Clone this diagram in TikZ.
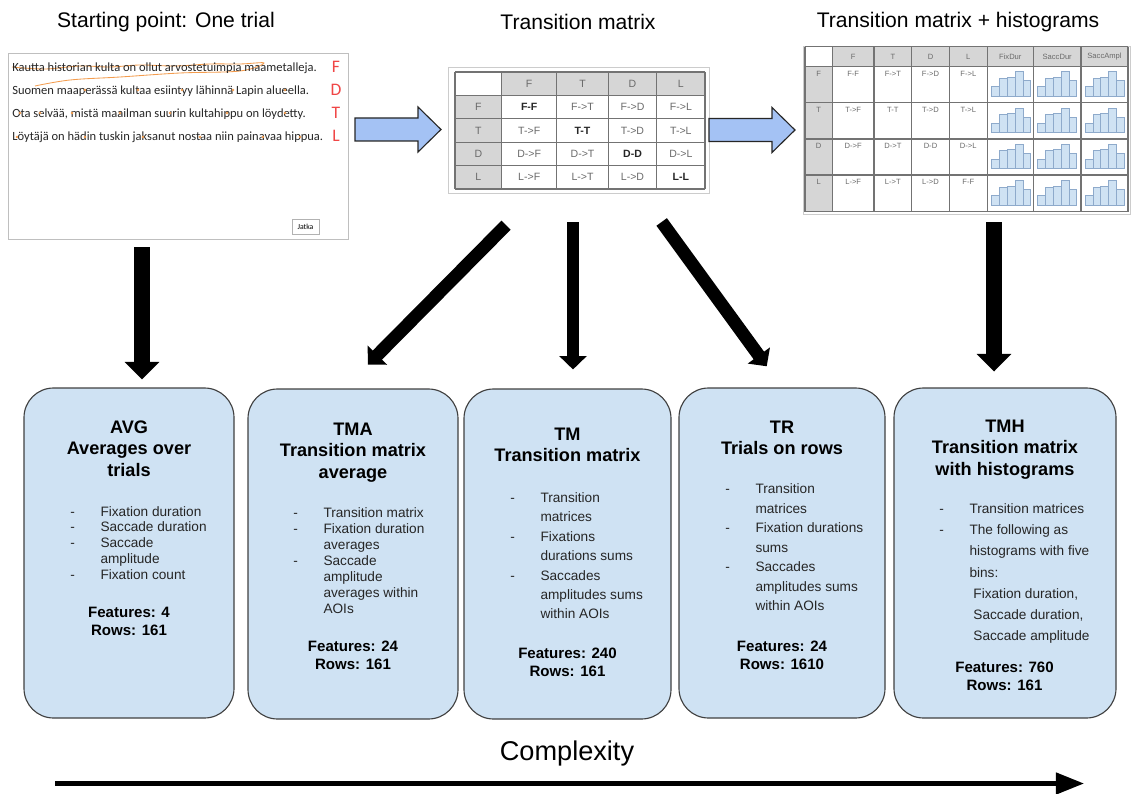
\documentclass[tikz,border=0pt]{standalone}
\usepackage{fontspec}
\setmainfont{Liberation Sans}
\newfontfamily\shotfont{Carlito}
\usetikzlibrary{arrows.meta,fit}

\definecolor{boxblue}{HTML}{CFE2F3}
\definecolor{arrblue}{HTML}{A4C2F4}
\definecolor{hdrgray}{HTML}{D6D6D6}
\definecolor{cellgray}{HTML}{6A6A6A}
\definecolor{barline}{HTML}{8EAACB}
\definecolor{scanorange}{HTML}{F39C4E}
\definecolor{aoired}{HTML}{F04646}

\newcommand{\ctab}[1]{\begin{tabular}[t]{@{}c@{}}#1\end{tabular}}
\newcommand{\itab}[1]{\begin{tabular}[t]{@{}p{21.5pt}@{}l@{}}#1\end{tabular}}
\newcommand{\ltab}[1]{\begin{tabular}[t]{@{}l@{}}#1\end{tabular}}
\newcommand{\histo}[2]{%
  \foreach \h [count=\k] in {9.3,17.7,18.7,24.3,15.3}
    {\draw[histbar] ({#1+(\k-1)*7.9},#2) rectangle ++(7.9,-\h);}}

\tikzset{
  title/.style={font=\fontsize{15}{18}\selectfont, inner sep=0pt},
  featbox/.style={draw=black!75, fill=boxblue, rounded corners=21pt, inner sep=0pt, line width=0.8pt},
  head/.style={font=\bfseries\fontsize{12.9}{15.2}\selectfont, anchor=base, inner sep=0pt},
  items/.style={font=\fontsize{9.7}{#1}\selectfont, anchor=base west, inner sep=0pt, text=black!85},
  feat/.style={font=\bfseries\fontsize{10.7}{12.8}\selectfont, anchor=base, inner sep=0pt},
  frame/.style={draw=black!20, fill=white, inner sep=0pt, line width=0.6pt},
  grid/.style={draw=black!55, line width=0.8pt},
  cell/.style={font=\fontsize{7.5}{9}\selectfont, text=cellgray, inner sep=0pt},
  small/.style={font=\fontsize{5.4}{6.5}\selectfont, text=cellgray, inner sep=0pt},
  histbar/.style={fill=boxblue, draw=barline, line width=0.5pt},
  fatarrow/.style={line width=12pt, -{Triangle[width=24pt,length=12.5pt]}},
  midarrow/.style={line width=9.2pt, -{Triangle[width=19pt,length=9.5pt]}},
  blockarr/.pic={\draw[fill=arrblue, draw=black!85, line width=0.8pt, line join=miter]
    (0,-11.5) -- (63,-11.5) -- (63,-22.5) -- (86,0) -- (63,22.5) -- (63,11.5) -- (0,11.5) -- cycle;}
}

\begin{document}
\begin{tikzpicture}[x=0.025cm, y=-0.025cm]
\useasboundingbox (0,0) rectangle (1131,794);

% titles
\node[title] (t1) at (166,22) {Starting point: One trial};
\node[title] (t2) at (578,22) {Transition matrix};
\node[title] (t3) at (958,22) {Transition matrix + histograms};

% screenshot of one trial
\node[frame, draw=black!25, fit={(8,53) (348,239)}] (trial) {};
\draw[scanorange, line width=0.6pt] plot[smooth, tension=.6] coordinates {(12,67) (45,69) (80,66) (110,67) (140,65) (175,66) (210,64) (240,64) (264,63) (240,71) (180,73) (120,77) (70,80) (35,86)};
\node[font=\shotfont\fontsize{8.9}{16.4}\selectfont, text=black!85, anchor=base west, inner sep=0pt] (sent) at (12,71.5)
  {\ltab{Kautta historian kulta on ollut arvostetuimpia maametalleja.\\
  Suomen maaperässä kultaa esiintyy lähinnä Lapin alueella.\\
  Ota selvää, mistä maailman suurin kultahippu on löydetty.\\
  Löytäjä on hädin tuskin jaksanut nostaa niin painavaa hippua.}};
\foreach \px/\py in {85/90,138/90,182/90,233/90,285/90,20/113,40/113,72/113,120/113,170/113,227/113,285/113,17/137,85/137,143/137,200/137,263/137,300/137}
  \fill[scanorange] (\px,\py) circle (1.3);
\foreach \l/\ly in {F/72.5,D/95.5,T/118.5,L/141.5}
  \node[font=\shotfont\fontsize{12.5}{14}\selectfont, text=aoired, anchor=base, inner sep=0pt] (aoi\l) at (336,\ly) {\l};
\node[draw=black!30, fill=white, minimum width=19pt, minimum height=10.5pt, inner sep=0pt, font=\shotfont\fontsize{5.5}{6}\selectfont] (jatka) at (305.5,226.5) {Jatka};

\pic at (355,129.5) {blockarr};

% transition matrix
\node[frame, fit={(448,67) (709,193)}] (tmat) {};
\fill[hdrgray] (501.7,72) rectangle (705,95.4);
\fill[hdrgray] (455,95.4) rectangle (501.7,189);
\foreach \x in {455,501.7,556.7,608.3,656.7,705} \draw[grid] (\x,72) -- (\x,189);
\foreach \y in {72,95.4,118.8,142.2,165.6,189} \draw[grid] (455,\y) -- (705,\y);
\foreach \cl [count=\j] in {F,T,D,L} {
  \pgfmathsetmacro\cx{{529.2,582.5,632.5,680.9}[\j-1]}
  \node[cell] (h\j) at (\cx,83.7) {\cl};
}
\foreach \rw/\cells [count=\i] in {F/{F-F,F->T,F->D,F->L},T/{T->F,T-T,T->D,T->L},D/{D->F,D->T,D-D,D->L},L/{L->F,L->T,L->D,L-L}} {
  \node[cell] (r\i) at (478.4,{83.7+23.4*\i}) {\rw};
  \foreach \lab [count=\j] in \cells {
    \pgfmathsetmacro\cx{{529.2,582.5,632.5,680.9}[\j-1]}
    \node[cell] (m\i\j) at (\cx,{83.7+23.4*\i}) {\ifnum\i=\j\relax\bfseries\color{black!85}\fi\lab};
  }
}

\pic at (709,130) {blockarr};

% transition matrix with histograms
\node[frame, fit={(803,46) (1130,214)}] (tmhist) {};
\fill[hdrgray] (832.3,46.7) rectangle (1128,66.7);
\fill[hdrgray] (805,66.7) rectangle (832.3,211.7);
\foreach \x in {805,832.3,874,911.7,949.3,987.3,1033.3,1081,1128} \draw[grid] (\x,46.7) -- (\x,211.7);
\foreach \y in {46.7,66.7,102.7,139,175,211.7} \draw[grid] (805,\y) -- (1128,\y);
\foreach \cl [count=\j] in {F,T,D,L,FixDur,SaccDur,SaccAmpl} {
  \pgfmathsetmacro\cx{{853.2,892.9,930.5,968.3,1010.3,1057.2,1104.5}[\j-1]}
  \node[small] (hh\j) at (\cx,56.7) {\cl};
}
\foreach \rw/\cells [count=\i] in {F/{F-F,F->T,F->D,F->L},T/{T->F,T-T,T->D,T->L},D/{D->F,D->T,D-D,D->L},L/{L->F,L->T,L->D,F-F}} {
  \pgfmathsetmacro\cy{{73.7,109.7,146,182}[\i-1]}
  \node[small] (hr\i) at (818.7,\cy) {\rw};
  \foreach \lab [count=\j] in \cells {
    \pgfmathsetmacro\cx{{853.2,892.9,930.5,968.3}[\j-1]}
    \node[small] (hm\i\j) at (\cx,\cy) {\lab};
  }
}
\foreach \y in {96,132.3,168.3,205} {
  \foreach \x in {991.3,1037.3,1085} {\histo{\x}{\y}}
}

% feature set boxes
\node[featbox, fit={(24,388) (234,718)}] (avg) {};
\node[featbox, fit={(248,389) (458,719)}] (tma) {};
\node[featbox, fit={(464,389) (671,719)}] (tm) {};
\node[featbox, fit={(679,388) (885,718)}] (tr) {};
\node[featbox, fit={(894,388) (1116,718)}] (tmh) {};

\node[head] (avgh) at (129,433.3) {\ctab{AVG\\Averages over\\trials}};
\node[items=11.3pt] (avgl) at (70,516) {\itab{-&Fixation duration\\-&Saccade duration\\-&Saccade\\&amplitude\\-&Fixation count}};
\node[feat] (avgf) at (129,617) {\ctab{Features: 4\\Rows: 161}};

\node[head] (tmah) at (353,435.6) {\ctab{TMA\\Transition matrix\\average}};
\node[items=11.4pt] (tmal) at (293,517.5) {\itab{-&Transition matrix\\-&Fixation duration\\&averages\\-&Saccade\\&amplitude\\&averages within\\&AOIs}};
\node[feat] (tmaf) at (353,651.4) {\ctab{Features: 24\\Rows: 161}};

\node[head] (tmhd) at (567.5,440.6) {\ctab{TM\\Transition matrix}};
\node[items=13.8pt] (tml) at (510,502.5) {\itab{-&Transition\\&matrices\\-&Fixations\\&durations sums\\-&Saccades\\&amplitudes sums\\&within AOIs}};
\node[feat] (tmf) at (567.5,658.4) {\ctab{Features: 240\\Rows: 161}};

\node[head] (trh) at (782,433.6) {\ctab{TR\\Trials on rows}};
\node[items=13.9pt] (trl) at (725,493.5) {\itab{-&Transition\\&matrices\\-&Fixation durations\\&sums\\-&Saccades\\&amplitudes sums\\&within AOIs}};
\node[feat] (trf) at (782,651.4) {\ctab{Features: 24\\Rows: 1610}};

\node[head] (tmhh) at (1005,432.6) {\ctab{TMH\\Transition matrix\\with histograms}};
\node[items=15.1pt] (tmhl) at (939,513.5) {\itab{-&Transition matrices\\-&The following as\\&histograms with five\\&bins:\\&\hspace{2.8pt}Fixation duration,\\&\hspace{2.8pt}Saccade duration,\\&\hspace{2.8pt}Saccade amplitude}};
\node[feat] (tmhf) at (1004.5,672.4) {\ctab{Features: 760\\Rows: 161}};

% arrows down to the boxes
\draw[fatarrow, shorten <=5.7pt, shorten >=5.7pt] (trial.south -| 142,0) -- (avg.north -| 142,0);
\draw[midarrow, shorten <=31.8pt, shorten >=23.9pt] (tmat.south -| 537.5,0) -- (tma.north -| 344.3,0);
\draw[midarrow, shorten <=20.5pt, shorten >=13.5pt] (tmat.south -| 573,0) -- (tm.north -| 573,0);
\draw[midarrow, shorten <=25.1pt, shorten >=18.6pt] (tmat.south -| 640.9,0) -- (tr.north -| 782.1,0);
\draw[fatarrow, shorten <=5.7pt, shorten >=11.3pt] (tmhist.south -| 994,0) -- (tmh.north -| 994,0);

% complexity axis
\node[font=\fontsize{19.3}{22}\selectfont, inner sep=0pt] (cx) at (567,753) {Complexity};
\coordinate (cxl) at (55,783.5);
\coordinate (cxr) at (1084,783.5);
\draw[line width=3.2pt, -{Triangle[width=15pt,length=20pt]}] (cxl) -- (cxr);
\end{tikzpicture}
\end{document}
